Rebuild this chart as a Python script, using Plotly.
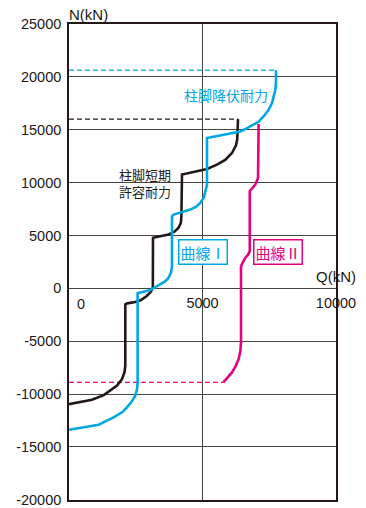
import plotly.graph_objects as go

# 柱脚短期許容耐力 (黒)
q_black = [0, 860, 1300, 1550, 1800, 1985, 2080, 2108, 2110, 2180, 2480, 2700, 2900, 3060, 3140,
           3146, 3730, 3950, 4105, 4190, 4210, 4232, 5170, 5540, 5850, 6105, 6250, 6300, 6330]
n_black = [-10950, -10540, -10100, -9690, -9200, -8585, -7900, -7330, -1500, -1420, -1290, -1100, -750, -350, 100,
           4780, 5090, 5350, 5730, 6200, 6820, 10760, 11290, 11700, 12150, 12800, 13500, 14060, 16000]

# 曲線Ⅰ (シアン)
q_c1 = [0, 1110, 1670, 2000, 2170, 2350, 2483, 2550, 2570, 2570, 3045, 3420, 3600, 3730, 3820, 3857,
        3857, 3918, 4543, 4750, 4917, 5050, 5105, 5168, 5168, 6416, 6667, 6914, 7100, 7288, 7476,
        7603, 7727, 7753, 7753]
n_c1 = [-13370, -12900, -12200, -11700, -11260, -10700, -10160, -9500, -8900, -470, -160, 380, 650, 1000, 1500, 2000,
        6820, 6980, 7450, 7700, 8085, 8600, 9180, 9800, 14220, 14840, 15160, 15470, 15750, 16255, 16890,
        17520, 18770, 19500, 20630]

# 曲線Ⅱ (マゼンタ)
q_c2 = [5780, 6105, 6250, 6352, 6420, 6442, 6442, 6520, 6603, 6700, 6770, 6770, 6880, 6978, 7080, 7101]
n_c2 = [-8900, -7950, -7300, -6700, -5900, -5120, 2100, 2500, 2900, 3150, 3520, 9180, 9500, 9810, 10440, 15550]

# 破線 (耐力レベル)
n_yield = 20630
n_allow = 16000
n_tension = -8900

y_ticks = [-20000, -15000, -10000, -5000, 0, 5000, 10000, 15000, 20000, 25000]
x_ticks = [5000, 10000]

BLACK = "#231815"
CYAN = "#00A7E5"
MAGENTA = "#E4007F"
TICK_FONT = dict(family="Liberation Sans, Arial", size=14.5, color="#231815")
JP = "Noto Sans CJK JP"

fig = go.Figure()

# 破線
fig.add_trace(go.Scatter(x=[0, q_c1[-1]], y=[n_yield, n_yield], mode="lines",
                         line=dict(color=CYAN, width=1.3, dash="5px,3px"), hoverinfo="skip"))
fig.add_trace(go.Scatter(x=[0, q_black[-1]], y=[n_allow, n_allow], mode="lines",
                         line=dict(color=BLACK, width=1.3, dash="5px,3px"), hoverinfo="skip"))
fig.add_trace(go.Scatter(x=[0, q_c2[0]], y=[n_tension, n_tension], mode="lines",
                         line=dict(color=MAGENTA, width=1.3, dash="5px,3px"), hoverinfo="skip"))

# 曲線
fig.add_trace(go.Scatter(x=q_c2, y=n_c2, mode="lines", line=dict(color=MAGENTA, width=2.6)))
fig.add_trace(go.Scatter(x=q_black, y=n_black, mode="lines", line=dict(color=BLACK, width=2.6)))
fig.add_trace(go.Scatter(x=q_c1, y=n_c1, mode="lines", line=dict(color=CYAN, width=2.6)))

# x軸目盛 (N=0 の位置)
fig.add_trace(go.Scatter(x=[0], y=[0], xaxis="x2", mode="markers",
                         marker=dict(opacity=0), hoverinfo="skip"))

fig.update_layout(
    width=366, height=508,
    margin=dict(l=69, r=30, t=24, b=8, autoexpand=False),
    paper_bgcolor="white", plot_bgcolor="white",
    showlegend=False,
    xaxis=dict(range=[0, 10000], tickvals=[5000], showticklabels=False, ticks="",
               showgrid=True, gridcolor="#444", gridwidth=1, zeroline=False,
               showline=True, linecolor=BLACK, linewidth=1.6, mirror=True, automargin=False),
    xaxis2=dict(range=[0, 10000], overlaying="x", anchor="free", position=20000 / 45000,
                side="bottom", tickvals=x_ticks, ticktext=[str(v) for v in x_ticks],
                ticks="outside", ticklen=1, tickcolor="rgba(0,0,0,0)", automargin=False,
                showgrid=False, zeroline=False, showline=False, tickfont=TICK_FONT),
    yaxis=dict(range=[-20015, 25000], tickvals=y_ticks, ticktext=[str(v) for v in y_ticks],
               ticks="outside", ticklen=3, automargin=False,
               tickcolor="rgba(0,0,0,0)", showgrid=True, gridcolor="#444", gridwidth=1,
               zeroline=False, showline=True, linecolor=BLACK, linewidth=1.6, mirror=True,
               tickfont=TICK_FONT),
)

anns = [
    dict(x=0, y=0, xref="x", yref="y", text="0", showarrow=False, font=TICK_FONT,
         xanchor="left", yanchor="top", xshift=6, yshift=-6),
    dict(x=0, y=1, xref="paper", yref="paper", text="N(kN)", showarrow=False,
         font=dict(family="Liberation Sans, Arial", size=15, color=BLACK),
         xanchor="left", yanchor="middle", xshift=-2, yshift=10),
    dict(x=1, y=0, xref="paper", yref="y", text="Q(kN)", showarrow=False,
         font=dict(family="Liberation Sans, Arial", size=15, color=BLACK),
         xanchor="center", yanchor="middle", xshift=0, yshift=12),
    dict(x=5891, y=18300, xref="x", yref="y", text="柱脚降伏耐力", showarrow=False,
         font=dict(family=JP, size=14, color=CYAN)),
    dict(x=2846, y=10000, xref="x", yref="y", text="柱脚短期<br>許容耐力", showarrow=False,
         font=dict(family=JP, size=13, color=BLACK)),
    dict(x=5011, y=3443, xref="x", yref="y", text="曲線Ⅰ", showarrow=False,
         font=dict(family=JP, size=15, color=CYAN), bgcolor="white",
         bordercolor=CYAN, borderwidth=1.5, borderpad=1),
    dict(x=7839, y=3443, xref="x", yref="y", text="曲線Ⅱ", showarrow=False,
         font=dict(family=JP, size=15, color=MAGENTA), bgcolor="white",
         bordercolor=MAGENTA, borderwidth=1.5, borderpad=1),
]
fig.update_layout(annotations=anns)

# ページ余白をなくす
fig.write_html("out.html", config={"displayModeBar": False},
               post_script="document.body.style.margin='0';")
